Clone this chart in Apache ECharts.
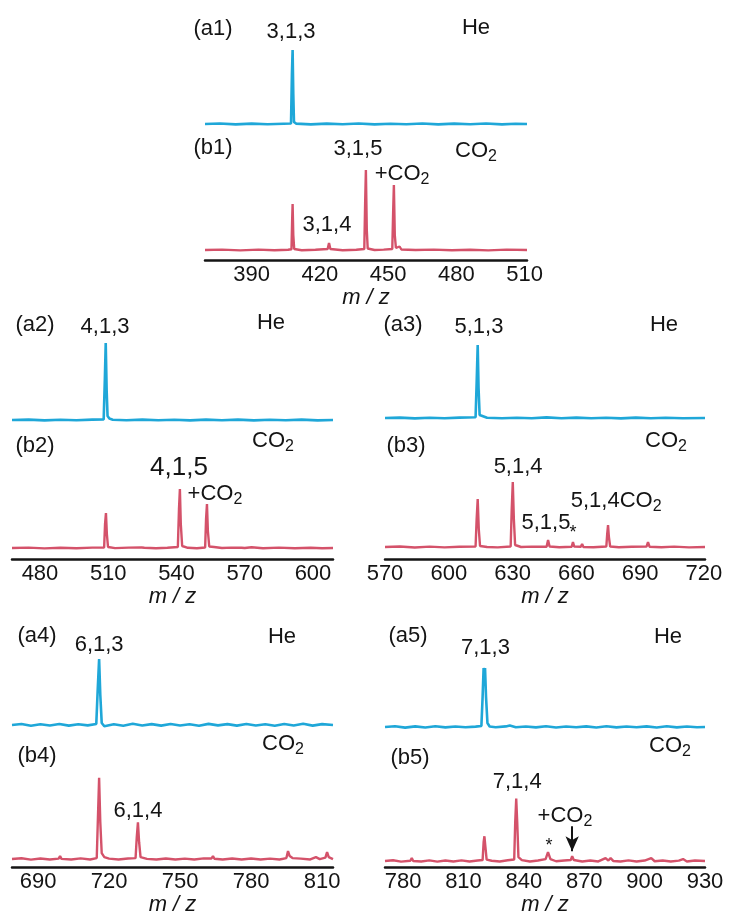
<!DOCTYPE html>
<html>
<head>
<meta charset="UTF-8">
<title>m/z spectra in He and CO2</title>
<script src="https://cdn.jsdelivr.net/npm/echarts@6.0.0/dist/echarts.min.js"></script>
<style>
    html, body { margin: 0; padding: 0; background: #fff; }
    #chart { width: 729px; height: 917px; }
</style>
</head>
<body>
<div id="chart"></div>
<script>
// spectra as [m/z, intensity]; a* = He (blue), b* = CO2 (red)
const a1 = [[369.5,10],[376,10.5],[383,9.6],[390,10.4],[397,9.7],[404,10.3],[407.3,10.5],[407.7,60],[408.0,84],[408.3,40],[408.6,12],[409.5,10.4],[416,9.6],[423,10.4],[430,9.7],[437,10.5],[444,9.6],[451,10.3],[458,9.7],[465,10.5],[472,9.6],[479,10.4],[486,9.7],[493,10.5],[500,9.6],[506,10.3],[511,10]];
const b1 = [[369.5,10],[377,10.4],[385,9.6],[393,10.4],[400,9.7],[406,10.3],[407.5,10.8],[407.8,40],[408.0,56],[408.3,25],[408.7,11],[412,9.8],[418,10.3],[423.4,11],[424.0,17],[424.6,11],[430,9.8],[436,10.3],[439.5,11],[439.9,60],[440.2,90],[440.6,30],[441.0,11.5],[444,10],[448,10.4],[451.8,11],[452.2,50],[452.5,75],[452.9,25],[453.4,12],[455.0,13.5],[455.8,10.5],[462,10],[470,10.4],[478,9.7],[486,10.3],[494,9.6],[502,10.4],[511,10]];

const a2 = [[467.7,10],[475,10.4],[482,9.6],[489,10.3],[496,9.7],[503,10.4],[508.0,10.6],[508.5,50],[508.9,87],[509.3,40],[509.7,14],[510.5,11.5],[512,10.3],[518,9.8],[525,10.4],[532,9.7],[539,10.3],[546,9.6],[553,10.4],[560,9.7],[567,10.4],[574,9.6],[581,10.3],[588,9.7],[595,10.4],[602,9.6],[608.8,10]];
const b2 = [[467.7,11],[475,11.4],[482,10.6],[489,11.3],[496,10.7],[503,11.4],[508.2,11.5],[508.6,35],[509.0,46],[509.4,25],[509.9,12],[513,10.9],[519,11.4],[524.7,11.5],[525.3,13],[525.9,11.3],[531,10.8],[536,11.3],[540.6,12],[541.1,50],[541.5,70],[541.9,35],[542.5,13],[545,11.2],[549,10.8],[552.6,11.5],[553.0,40],[553.4,55],[553.8,28],[554.4,12.5],[556.5,12],[560,11],[564,11.4],[568.6,11.3],[569.2,12.5],[570,11],[573,11.8],[578,10.8],[585,11.4],[592,10.7],[599,11.3],[604,10.7],[608.8,11]];

const a3 = [[570,10],[577,10.4],[584,9.6],[591,10.3],[598,9.7],[605,10.4],[612.6,10.8],[613.1,45],[613.6,83],[614.0,40],[614.5,13],[615.3,11],[618,10.2],[625,9.8],[632,10.3],[639,9.7],[646,10.6],[653,9.8],[660,10.4],[667,9.7],[674,10.3],[681,9.6],[688,10.4],[695,9.7],[702,10.3],[710,9.7],[720.5,10]];
const b3 = [[570,12],[577,12.5],[584,11.5],[591,12.4],[598,11.6],[605,12.3],[612.6,12.5],[613.1,40],[613.6,60],[614.1,30],[614.7,13],[618,12],[623,11.6],[629.1,12.5],[629.6,50],[630.1,77],[630.6,40],[631.2,14],[634,12],[639,12.4],[646.0,12.3],[646.7,19],[647.4,12.5],[652,11.7],[657.8,12.3],[658.4,17],[659.0,12.4],[662.1,12.2],[662.7,15],[663.3,12],[668,11.7],[674.1,12.5],[674.5,25],[674.9,34],[675.3,22],[675.9,12.5],[680,11.8],[686,12.3],[693.0,12.4],[693.7,17],[694.4,12.3],[700,11.7],[706,12.4],[713,11.6],[720.5,12]];

const a4 = [[679,10],[683,11],[687,9.3],[691,10.8],[695,9.5],[699,11],[703,9.4],[707,10.7],[711,9.6],[714.6,11],[715.2,45],[715.8,76],[716.3,40],[716.9,12],[718,8.8],[722,10.8],[726,9.3],[730,11.2],[734,9.5],[738,10.9],[742,9.4],[746,11],[750,9.5],[754,10.8],[758,9.3],[762,11.1],[766,9.6],[770,10.9],[774,9.4],[778,11],[782,9.5],[786,10.8],[790,9.3],[794,11],[798,9.5],[802,11.2],[806,9.4],[810,10.9],[814.6,10]];
const b4 = [[679,8],[683,8.8],[687,7.4],[691,8.6],[695,7.6],[698.7,8.5],[699.3,11],[699.9,8.2],[704,7.5],[708,8.7],[712,7.6],[714.8,9],[715.3,50],[715.8,90],[716.3,45],[716.9,14],[718,10],[720,8.4],[724,7.6],[728,8.6],[731.2,9],[731.7,30],[732.2,45],[732.7,25],[733.3,10],[736,8.2],[740,7.5],[744,8.6],[748,7.6],[752,8.5],[756,7.5],[760,8.7],[763.3,8.6],[763.9,11],[764.5,8.3],[768,7.6],[772,8.6],[776,7.5],[780,8.6],[784,7.6],[788,8.5],[792,7.6],[794.9,9],[795.6,16],[796.3,11],[797.5,9],[801,8.4],[805,7.6],[807.4,10],[809,8],[811.4,9.5],[812.1,15],[812.8,10],[814.6,8]];

const a5 = [[771,10],[776,10.8],[781,9.4],[786,10.6],[791,9.5],[796,10.7],[801,9.6],[806,10.5],[811,9.7],[816,10.4],[818.9,11],[819.5,40],[820.0,69],[820.4,62],[820.7,69],[821.2,40],[821.9,14],[823,10.5],[826,9.8],[831,10.6],[833,11.5],[836,9.8],[841,10.5],[846,9.6],[851,10.7],[856,9.5],[861,10.5],[866,9.7],[871,10.6],[876,9.5],[881,10.7],[886,9.6],[891,10.5],[896,9.7],[901,10.6],[906,9.5],[911,10.7],[916,9.6],[921,10.5],[926,9.8],[930,10]];
const b5 = [[771,6],[775,6.8],[779,5.4],[783.6,6.3],[784.3,9],[785,6],[789,5.5],[793,6.7],[797,5.4],[801,6.6],[805,5.5],[809,6.7],[813,5.5],[817,6.5],[819.5,7],[820.0,25],[820.4,31],[820.9,20],[821.5,7.5],[824,6.3],[828,5.6],[832,6.8],[835.2,7.5],[835.7,45],[836.2,69],[836.7,45],[837.3,10],[839,7],[843,5.6],[847,6.6],[850.8,8],[852.0,15],[853.2,8],[856,5.8],[860,6.6],[863.3,7],[864.0,11],[864.8,7],[869,5.6],[873,6.6],[877,5.6],[880.6,9],[882,6.5],[883.1,9],[884.5,6],[888,5.5],[892,6.7],[896,5.5],[900,6.5],[903.3,9],[905,5.8],[909,6.6],[913,5.5],[917,6.4],[919.1,8],[921,5.6],[925,6.6],[930,6]];

// m/z ranges and tick labels
const range1 = [369.5, 511], ticks1 = [390, 420, 450, 480, 510];
const range2 = [467.7, 608.8], ticks2 = [480, 510, 540, 570, 600];
const range3 = [570, 720.5], ticks3 = [570, 600, 630, 660, 690, 720];
const range4 = [679, 814.6], ticks4 = [690, 720, 750, 780, 810];
const range5 = [771, 930], ticks5 = [780, 810, 840, 870, 900, 930];

const BLUE = '#1fa7d8';
const RED = '#d4526a';
const INK = '#141414';
const FONT = '"Liberation Sans", Arial, sans-serif';
const FS = 22;
const SUB = { s: { fontSize: 16, lineHeight: 16, padding: [11, 0, 0, 0], color: INK, fontFamily: FONT } };

// peak annotation, placed in data coordinates of its spectrum
function note(x, y, text, size) {
    return {
        coord: [x, y], symbol: 'circle', symbolSize: 1,
        itemStyle: { color: 'rgba(0,0,0,0)' },
        label: { show: true, position: 'inside', formatter: text, fontSize: size || FS,
                 lineHeight: 27, color: INK, fontFamily: FONT, rich: SUB }
    };
}

const panels = [
    { he: a1, co2: b1, range: range1, ticks: ticks1, left: 205, width: 322, aBottom: 134, bBottom: 260,
      heNotes: [note(407.3, 102, '3,1,3')],
      co2Notes: [note(436.7, 111, '3,1,5'), note(456.1, 86, '+CO{s|2}'), note(423.1, 35, '3,1,4')] },
    { he: a2, co2: b2, range: range2, ticks: ticks2, left: 12, width: 321, aBottom: 430, bBottom: 559,
      heNotes: [note(508.6, 103, '4,1,3')],
      co2Notes: [note(541.1, 91, '4,1,5', 26), note(556.9, 65, '+CO{s|2}')] },
    { he: a3, co2: b3, range: range3, ticks: ticks3, left: 385, width: 320, aBottom: 428, bBottom: 559,
      heNotes: [note(614.2, 101, '5,1,3')],
      co2Notes: [note(632.6, 92, '5,1,4'), note(678.7, 58, '5,1,4CO{s|2}'), note(645.7, 36, '5,1,5'), note(658.4, 26, '*', 18)] },
    { he: a4, co2: b4, range: range4, ticks: ticks4, left: 12, width: 321, aBottom: 735, bBottom: 868,
      heNotes: [note(715.8, 90, '6,1,3')],
      co2Notes: [note(732.2, 57, '6,1,4')] },
    { he: a5, co2: b5, range: range5, ticks: ticks5, left: 385, width: 320, aBottom: 737, bBottom: 868,
      heNotes: [note(820.9, 89, '7,1,3')],
      co2Notes: [note(836.7, 86, '7,1,4'), note(860.4, 51, '+CO{s|2}'), note(852.5, 21, '*', 18)],
      arrow: [[864, 41], [864, 16]] }
];

const H = 120;
const grid = [], xAxis = [], yAxis = [], series = [];
panels.forEach((p, i) => {
    [p.aBottom, p.bBottom].forEach((bottom, k) => {
        const idx = i * 2 + k;
        grid.push({ left: p.left, width: p.width, top: bottom - H, height: H });
        yAxis.push({ type: 'value', gridIndex: idx, min: 0, max: H, show: false });
        if (k === 0) {
            xAxis.push({ type: 'value', gridIndex: idx, min: p.range[0], max: p.range[1], show: false });
        } else {
            xAxis.push({
                type: 'value', gridIndex: idx, min: p.range[0], max: p.range[1],
                axisLine: { show: true, onZero: false, lineStyle: { color: INK, width: 2.5 } },
                axisTick: { show: false },
                splitLine: { show: false },
                axisLabel: { customValues: p.ticks, fontSize: FS, color: INK, fontFamily: FONT, margin: 4 },
                name: 'm / z', nameLocation: 'middle', nameGap: 27,
                nameTextStyle: { fontStyle: 'italic', fontSize: FS, color: INK, fontFamily: FONT }
            });
        }
    });
    series.push({
        type: 'line', xAxisIndex: i * 2, yAxisIndex: i * 2, data: p.he,
        showSymbol: false, lineStyle: { color: BLUE, width: 2.6 }, itemStyle: { color: BLUE },
        markPoint: { silent: true, data: p.heNotes }
    });
    const red = {
        type: 'line', xAxisIndex: i * 2 + 1, yAxisIndex: i * 2 + 1, data: p.co2,
        showSymbol: false, lineStyle: { color: RED, width: 2.4 }, itemStyle: { color: RED },
        markPoint: { silent: true, data: p.co2Notes }
    };
    if (p.arrow) {
        red.markLine = {
            silent: true, symbol: ['none', 'arrow'], symbolSize: [10, 15],
            lineStyle: { color: INK, width: 2, type: 'solid' }, label: { show: false },
            data: [[{ coord: p.arrow[0] }, { coord: p.arrow[1] }]]
        };
    }
    series.push(red);
});

// panel tags and gas names
function tag(x, y, text) {
    return { type: 'text', x: x, y: y, silent: true,
             style: { text: text, fill: INK, fontSize: FS, fontFamily: FONT, align: 'center', verticalAlign: 'middle',
                      lineHeight: 27, rich: SUB } };
}
const graphic = [
    tag(213, 29, '(a1)'), tag(476, 28, 'He'), tag(213, 148, '(b1)'), tag(476, 151, 'CO{s|2}'),
    tag(35, 325, '(a2)'), tag(271, 323, 'He'), tag(35, 446, '(b2)'), tag(273, 441, 'CO{s|2}'),
    tag(403, 325, '(a3)'), tag(664, 325, 'He'), tag(406, 446, '(b3)'), tag(666, 441, 'CO{s|2}'),
    tag(37, 636, '(a4)'), tag(282, 637, 'He'), tag(37, 756, '(b4)'), tag(283, 744, 'CO{s|2}'),
    tag(408, 636, '(a5)'), tag(668, 637, 'He'), tag(410, 758, '(b5)'), tag(670, 746, 'CO{s|2}')
];

const chart = echarts.init(document.getElementById('chart'));
chart.setOption({
    animation: false,
    backgroundColor: '#ffffff',
    grid: grid,
    xAxis: xAxis,
    yAxis: yAxis,
    series: series,
    graphic: graphic
});
</script>
</body>
</html>
